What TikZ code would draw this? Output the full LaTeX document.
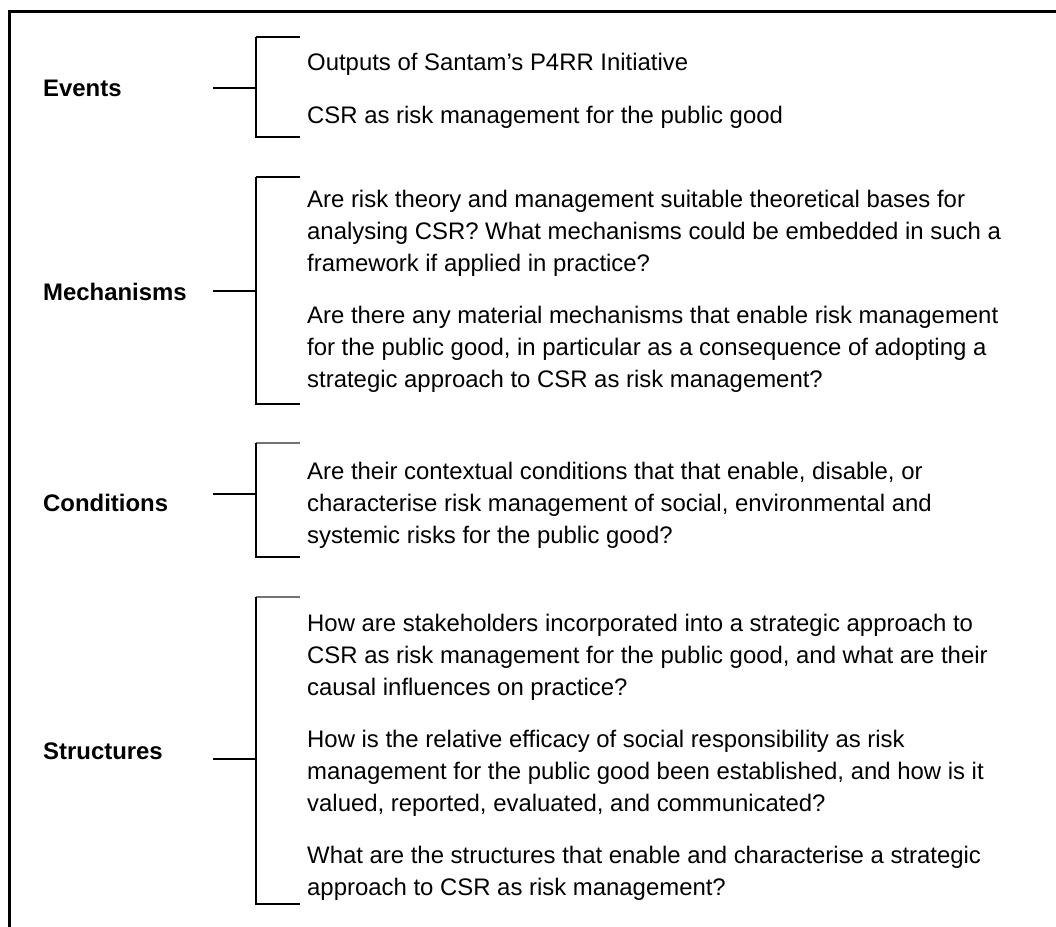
\documentclass[tikz,border=0pt]{standalone}
\usepackage{fontspec}
\setmainfont{Liberation Sans}
\begin{document}
\begin{tikzpicture}[x=1bp,y=-1bp,
  lbl/.style={font=\bfseries\fontsize{24}{29}\selectfont,anchor=base west,inner sep=0},
  txt/.style={font=\fontsize{24}{29}\selectfont,anchor=base west,inner sep=0},
  brk/.style={line width=2.6bp}]
\useasboundingbox (0,0) rectangle (1056,927);
% frame
\coordinate (fr-b) at (9,927);
\coordinate (fr-c) at (9,11);
\coordinate (fr-r) at (1056,11);
\draw[line width=3bp] (fr-b)--(fr-c)--(fr-r);
% brackets
\foreach \n/\t/\m/\b/\c in {ev/37/88/137/black, me/177/291/404/black, co/443/494/557/black!55, st/597/759/904/black!55}{
  \coordinate (\n-t) at (300,\t);
  \coordinate (\n-a) at (256,\t);
  \coordinate (\n-z) at (256,\b);
  \coordinate (\n-b) at (300,\b);
  \coordinate (\n-m) at (256,\m);
  \coordinate (\n-s) at (213,\m);
  \draw[brk,\c] (\n-t)--(\n-a);
  \draw[brk] (\n-a)--(\n-z)--(\n-b);
  \draw[brk] (\n-s)--(\n-m);
}
% labels
\node[lbl] (events) at (43,96) {Events};
\node[lbl] (mech) at (43,300) {Mechanisms};
\node[lbl] (cond) at (43,511) {Conditions};
\node[lbl] (struc) at (43,759) {Structures};
% questions
\foreach \i/\y/\t in {
  1/70/{Outputs of Santam’s P4RR Initiative},
  2/123/{CSR as risk management for the public good},
  3/207/{Are risk theory and management suitable theoretical bases for},
  4/239/{analysing CSR? What mechanisms could be embedded in such a},
  5/271/{framework if applied in practice?},
  6/323/{Are there any material mechanisms that enable risk management},
  7/355/{for the public good, in particular as a consequence of adopting a},
  8/387/{strategic approach to CSR as risk management?},
  9/479/{Are their contextual conditions that that enable, disable, or},
  10/511/{characterise risk management of social, environmental and},
  11/543/{systemic risks for the public good?},
  12/631/{How are stakeholders incorporated into a strategic approach to},
  13/663/{CSR as risk management for the public good, and what are their},
  14/695/{causal influences on practice?},
  15/747/{How is the relative efficacy of social responsibility as risk},
  16/779/{management for the public good been established, and how is it},
  17/811/{valued, reported, evaluated, and communicated?},
  18/863/{What are the structures that enable and characterise a strategic},
  19/895/{approach to CSR as risk management?}}
  \node[txt] (q\i) at (307,\y) {\t};
\end{tikzpicture}
\end{document}
